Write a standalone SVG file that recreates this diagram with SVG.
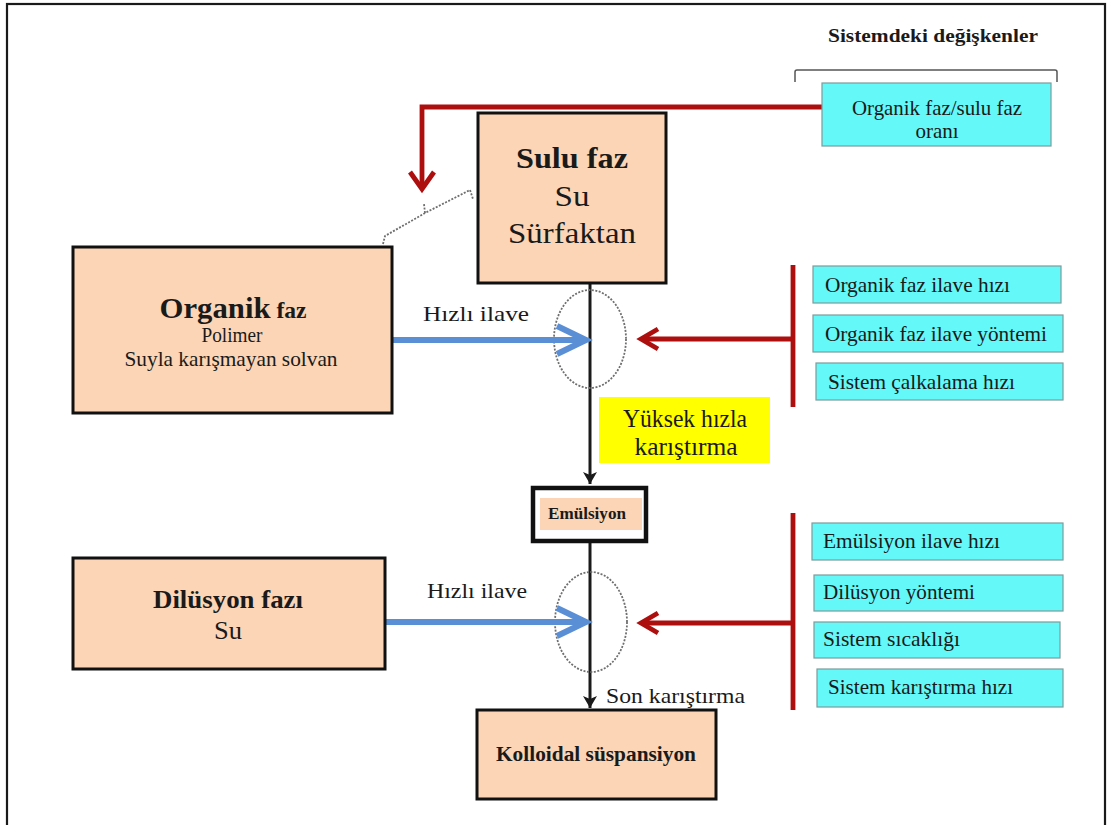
<svg xmlns="http://www.w3.org/2000/svg" width="1112" height="825" viewBox="0 0 1112 825">
  <style>
    text { font-family: "Liberation Serif", "Times New Roman", serif; fill: #1a1a1a; }
    .b { font-weight: bold; }
    .mid { text-anchor: middle; }
    .phase { fill: #fbd5b5; stroke: #111; stroke-width: 3; }
    .var { fill: #64f8f8; stroke: #7c9c9c; stroke-width: 1.2; }
    .vt { font-size: 21px; }
    .blue { fill: none; stroke: #5b8fd5; stroke-width: 6; }
    .red { fill: none; stroke: #ad0f0f; stroke-width: 4.8; }
    .flow { fill: none; stroke: #1a1a1a; stroke-width: 3; }
    .zone { fill: none; stroke: #6f6f6f; stroke-width: 1.8; stroke-dasharray: 2 1.5; }
  </style>
  <defs>
    <marker id="blackHead" viewBox="0 0 12 16" refX="12" refY="8" markerWidth="12" markerHeight="16" markerUnits="userSpaceOnUse" orient="auto">
      <path d="M0,1 L12,8 L0,15 L3,8 Z" fill="#1a1a1a"/>
    </marker>
  </defs>

  <!-- page frame -->
  <rect x="7" y="4" width="1098" height="830" fill="#fff" stroke="#1a1a1a" stroke-width="2.2"/>

  <!-- header of the variable list -->
  <g id="variables-header">
    <text class="b mid" x="933" y="42" font-size="18" textLength="210" lengthAdjust="spacingAndGlyphs">Sistemdeki değişkenler</text>
    <path d="M795,82 L795,72 Q795,70 797,70 L1055,70 Q1057,70 1057,72 L1057,82" fill="none" stroke="#555" stroke-width="1.5"/>
  </g>

  <!-- connectors -->
  <g id="connectors">
    <!-- ratio variable feeding the phase contact zone -->
    <polyline class="red" points="822,107 422,107 422,188"/>
    <polyline class="red" points="410,172 422,189 434,172"/>
    <!-- dotted brace between the two phases -->
    <path class="zone" d="M383,244 L385,236 L425,213 L470,190 L473,199"/>
    <path class="zone" d="M425,213 L424,204"/>

    <!-- main flow line -->
    <line class="flow" x1="590" y1="283" x2="590" y2="484" marker-end="url(#blackHead)"/>
    <line class="flow" x1="590" y1="543" x2="590" y2="708" marker-end="url(#blackHead)"/>

    <!-- mixing zones -->
    <ellipse class="zone" cx="590" cy="339" rx="36" ry="49"/>
    <ellipse class="zone" cx="591" cy="622" rx="36" ry="50"/>

    <!-- organic phase addition -->
    <line class="blue" x1="392" y1="340" x2="584" y2="340"/>
    <polyline class="blue" points="557,326 586,340 557,354"/>
    <!-- dilution phase addition -->
    <line class="blue" x1="385" y1="622" x2="584" y2="622"/>
    <polyline class="blue" points="557,608 586,622 557,636"/>

    <!-- variable groups acting on the zones -->
    <line class="red" x1="793" y1="265" x2="793" y2="407"/>
    <line class="red" x1="793" y1="339" x2="642" y2="339"/>
    <polyline class="red" points="658,329 641,339 658,349"/>
    <line class="red" x1="793" y1="513" x2="793" y2="710"/>
    <line class="red" x1="793" y1="623" x2="642" y2="623"/>
    <polyline class="red" points="658,613 641,623 658,633"/>

    <text class="mid" x="476" y="321" font-size="22" textLength="106" lengthAdjust="spacingAndGlyphs">Hızlı ilave</text>
    <text class="mid" x="477" y="598" font-size="22" textLength="100" lengthAdjust="spacingAndGlyphs">Hızlı ilave</text>
    <text x="606" y="703" font-size="22" textLength="139" lengthAdjust="spacingAndGlyphs">Son karıştırma</text>
  </g>

  <!-- aqueous phase -->
  <g id="sulu-faz">
    <rect class="phase" x="478" y="113" width="188" height="170"/>
    <text class="b mid" x="572" y="168" font-size="30" textLength="112" lengthAdjust="spacingAndGlyphs">Sulu faz</text>
    <text class="mid" x="572" y="206" font-size="30" textLength="35" lengthAdjust="spacingAndGlyphs">Su</text>
    <text class="mid" x="572" y="243" font-size="30" textLength="128" lengthAdjust="spacingAndGlyphs">Sürfaktan</text>
  </g>

  <!-- organic phase -->
  <g id="organik-faz">
    <rect class="phase" x="73" y="247" width="319" height="166"/>
    <text class="b mid" x="233" y="318" textLength="147" lengthAdjust="spacingAndGlyphs"><tspan font-size="30">Organik</tspan><tspan font-size="23"> faz</tspan></text>
    <text class="mid" x="232" y="342" font-size="21" textLength="61" lengthAdjust="spacingAndGlyphs">Polimer</text>
    <text class="mid" x="231" y="366" font-size="21" textLength="213" lengthAdjust="spacingAndGlyphs">Suyla karışmayan solvan</text>
  </g>

  <!-- high speed mixing note -->
  <g id="karistirma">
    <rect x="599" y="397" width="171" height="66" fill="#ffff00"/>
    <text class="mid" x="685" y="427" font-size="25" textLength="124" lengthAdjust="spacingAndGlyphs">Yüksek hızla</text>
    <text class="mid" x="686" y="455" font-size="25" textLength="103" lengthAdjust="spacingAndGlyphs">karıştırma</text>
  </g>

  <!-- emulsion -->
  <g id="emulsiyon">
    <rect x="533" y="488" width="113" height="53" fill="#fff" stroke="#111" stroke-width="4.5"/>
    <rect x="540" y="498" width="102" height="32" fill="#fbd5b5"/>
    <text class="b mid" x="587" y="519" font-size="17" textLength="78" lengthAdjust="spacingAndGlyphs">Emülsiyon</text>
  </g>

  <!-- dilution phase -->
  <g id="dilusyon-fazi">
    <rect class="phase" x="73" y="558" width="312" height="111"/>
    <text class="b mid" x="228" y="608" font-size="26" textLength="150" lengthAdjust="spacingAndGlyphs">Dilüsyon fazı</text>
    <text class="mid" x="228" y="639" font-size="26" textLength="28" lengthAdjust="spacingAndGlyphs">Su</text>
  </g>

  <!-- colloidal suspension -->
  <g id="kolloidal-suspansiyon">
    <rect class="phase" x="477" y="710" width="239" height="89"/>
    <text class="b mid" x="596" y="761" font-size="21" textLength="200" lengthAdjust="spacingAndGlyphs">Kolloidal süspansiyon</text>
  </g>

  <!-- process variables -->
  <g id="var-oran">
    <rect class="var" x="822" y="83" width="229" height="63"/>
    <text class="vt mid" x="937" y="115" textLength="170" lengthAdjust="spacingAndGlyphs">Organik faz/sulu faz</text>
    <text class="vt mid" x="937" y="138">oranı</text>
  </g>
  <g id="var-organik-hiz">
    <rect class="var" x="813" y="266" width="248" height="37"/>
    <text class="vt" x="825" y="292" textLength="185" lengthAdjust="spacingAndGlyphs">Organik faz ilave hızı</text>
  </g>
  <g id="var-organik-yontem">
    <rect class="var" x="813" y="315" width="250" height="37"/>
    <text class="vt" x="825" y="341" textLength="222" lengthAdjust="spacingAndGlyphs">Organik faz ilave yöntemi</text>
  </g>
  <g id="var-calkalama">
    <rect class="var" x="816" y="363" width="247" height="37"/>
    <text class="vt" x="828" y="389" textLength="187" lengthAdjust="spacingAndGlyphs">Sistem çalkalama hızı</text>
  </g>
  <g id="var-emulsiyon-hiz">
    <rect class="var" x="812" y="523" width="251" height="37"/>
    <text class="vt" x="823" y="548" textLength="177" lengthAdjust="spacingAndGlyphs">Emülsiyon ilave hızı</text>
  </g>
  <g id="var-dilusyon-yontem">
    <rect class="var" x="814" y="575" width="249" height="36"/>
    <text class="vt" x="823" y="599" textLength="152" lengthAdjust="spacingAndGlyphs">Dilüsyon yöntemi</text>
  </g>
  <g id="var-sicaklik">
    <rect class="var" x="814" y="622" width="246" height="36"/>
    <text class="vt" x="823" y="646" textLength="137" lengthAdjust="spacingAndGlyphs">Sistem sıcaklığı</text>
  </g>
  <g id="var-karistirma-hiz">
    <rect class="var" x="817" y="669" width="246" height="38"/>
    <text class="vt" x="828" y="694" textLength="185" lengthAdjust="spacingAndGlyphs">Sistem karıştırma hızı</text>
  </g>
</svg>
